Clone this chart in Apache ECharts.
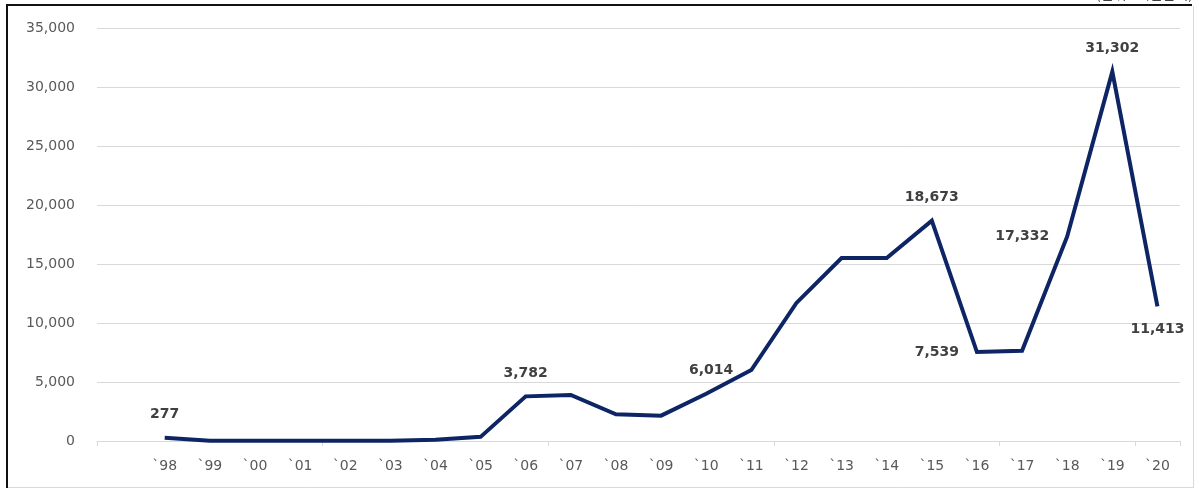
<!DOCTYPE html>
<html>
<head>
<meta charset="utf-8">
<script src="https://cdn.jsdelivr.net/npm/echarts@6/dist/echarts.min.js"></script>
<style>
  html, body { margin: 0; padding: 0; background: #fff; }
  #chart { width: 1199px; height: 489px; }
</style>
</head>
<body>
<div id="chart"></div>
<script>
// leading empty category, as in the original sheet
const years = ["", "`98", "`99", "`00", "`01", "`02", "`03", "`04", "`05", "`06", "`07", "`08",
  "`09", "`10", "`11", "`12", "`13", "`14", "`15", "`16", "`17", "`18", "`19", "`20"];
const amounts = [null, 277, 30, 20, 20, 20, 30, 110, 350, 3782, 3900, 2260,
  2150, 4000, 6014, 11700, 15500, 15500, 18673, 7539, 7650, 17332, 31302, 11413];
const yTicks = [0, 5000, 10000, 15000, 20000, 25000, 30000, 35000];
const unitText = "(단위 : 백만달러)";

// which points carry a value label and where it sits
const labelPlace = { 1: "top", 9: "top", 14: "left", 18: "top", 19: "left", 21: "left", 22: "top", 23: "bottom" };

let chart = echarts.init(document.getElementById("chart"));

let seriesData = amounts.map((v, i) => {
  let pos = labelPlace[i];
  if (!pos) return { value: v };
  return {
    value: v,
    label: {
      show: true,
      position: pos,
      distance: pos == "left" ? 18 : 16,
      formatter: p => p.value.toLocaleString("en-US")
    }
  };
});

chart.setOption({
  animation: false,
  textStyle: { fontFamily: "DejaVu Sans" },
  grid: {
    left: 97,
    right: 19,
    top: 28,
    bottom: 48,
    containLabel: false
  },
  xAxis: {
    type: "category",
    boundaryGap: true,
    data: years,
    axisLine: { show: true, lineStyle: { color: "#d9d9d9", width: 1 } },
    axisTick: { show: true, interval: 4, length: 5, lineStyle: { color: "#d9d9d9" } },
    axisLabel: { interval: 0, margin: 18, color: "#595959", fontSize: 14 },
    splitLine: { show: false }
  },
  yAxis: {
    type: "value",
    min: yTicks[0],
    max: yTicks[yTicks.length - 1],
    interval: yTicks[1] - yTicks[0],
    axisLine: { show: false },
    axisTick: { show: false },
    axisLabel: {
      margin: 22,
      color: "#595959",
      fontSize: 14,
      formatter: v => v.toLocaleString("en-US")
    },
    splitLine: { lineStyle: { color: "#d9d9d9", width: 1 } }
  },
  series: [
    {
      type: "line",
      data: seriesData,
      symbol: "circle",
      symbolSize: 0,
      showSymbol: true,
      connectNulls: false,
      lineStyle: { color: "#0e2565", width: 4, join: "miter" },
      itemStyle: { color: "#0e2565" },
      label: {
        show: false,
        color: "#404040",
        fontSize: 14,
        fontWeight: "bold",
        fontFamily: "DejaVu Sans"
      }
    }
  ],
  graphic: [
    { type: "line", shape: { x1: 6, y1: 5, x2: 1192, y2: 5 }, style: { stroke: "#111", lineWidth: 2 } },
    { type: "line", shape: { x1: 7, y1: 4, x2: 7, y2: 488 }, style: { stroke: "#111", lineWidth: 2 } },
    { type: "line", shape: { x1: 1193.5, y1: 6, x2: 1193.5, y2: 488 }, style: { stroke: "#d9d9d9", lineWidth: 1 } },
    { type: "line", shape: { x1: 8, y1: 487.5, x2: 1193, y2: 487.5 }, style: { stroke: "#d9d9d9", lineWidth: 1 } },
    {
      type: "text",
      right: 6,
      top: -13,
      style: { text: unitText, fill: "#404040", font: "14px 'Noto Sans CJK KR'" }
    }
  ]
});
</script>
</body>
</html>
